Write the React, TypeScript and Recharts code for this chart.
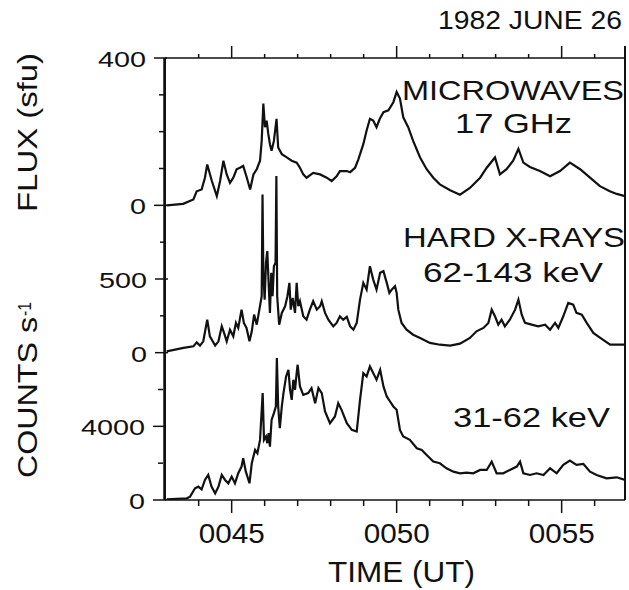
import { LineChart, Line, XAxis, YAxis } from 'recharts'

const FONT = "'Liberation Sans', Arial, Helvetica, sans-serif"
const INK = '#111'
const W = 629
const H = 590
const MARGIN = { top: 57, right: 4, bottom: 89, left: 162 }

// time axis, minutes after 00:00 UT
const timeDomain = [42.98, 56.92]
const timeTicks = [44, 45, 46, 47, 48, 49, 50, 51, 52, 53, 54, 55, 56]
const timeLabels = [45, 50, 55]

// 17 GHz microwave flux (sfu)
const mwTime = [
  43.03, 43.53, 43.84, 43.94, 44.09, 44.19, 44.26, 44.4, 44.55, 44.65,
  44.75, 44.85, 44.95, 45.05, 45.15, 45.25, 45.35, 45.46, 45.56, 45.66,
  45.76, 45.86, 45.91, 45.96, 46.01, 46.06, 46.11, 46.16, 46.21, 46.28,
  46.36, 46.41, 46.52, 46.67, 46.82, 46.97, 47.07, 47.17, 47.27, 47.47,
  47.68, 47.88, 48.03, 48.18, 48.28, 48.49, 48.59, 48.74, 48.84, 48.99,
  49.09, 49.19, 49.29, 49.39, 49.49, 49.6, 49.75, 49.9, 50.0, 50.1,
  50.2, 50.35, 50.5, 50.71, 50.91, 51.11, 51.31, 51.62, 51.92, 52.22,
  52.53, 52.73, 52.98, 53.13, 53.33, 53.53, 53.69, 53.84, 54.04, 54.34,
  54.65, 54.95, 55.25, 55.56, 55.86, 56.16, 56.46, 56.67, 56.92,
]
const mwFlux = [
  0, 4, 16, 38, 43, 75, 111, 66, 25, 66,
  121, 84, 61, 75, 98, 102, 107, 75, 43, 84,
  98, 121, 175, 276, 212, 230, 194, 166, 148, 175,
  235, 157, 139, 130, 121, 116, 102, 84, 75, 88,
  84, 75, 66, 79, 93, 93, 90, 102, 125, 166,
  203, 235, 230, 212, 235, 253, 258, 280, 308, 290,
  239, 212, 175, 130, 98, 75, 57, 41, 29, 47,
  75, 102, 130, 84, 98, 121, 153, 116, 104, 93,
  79, 93, 116, 98, 75, 52, 38, 31, 25,
]

// hard X-rays 62-143 keV (counts/s)
const hxTime = [
  43.03, 43.54, 43.84, 43.94, 44.04, 44.14, 44.26, 44.34, 44.5, 44.6,
  44.7, 44.77, 44.85, 44.95, 45.05, 45.13, 45.2, 45.3, 45.37, 45.45,
  45.54, 45.61, 45.68, 45.76, 45.84, 45.91, 45.935, 45.96, 46.0, 46.04,
  46.08, 46.12, 46.16, 46.2, 46.24, 46.28, 46.33, 46.355, 46.38, 46.44,
  46.52, 46.62, 46.69, 46.75, 46.79, 46.85, 46.92, 46.97, 47.02, 47.07,
  47.17, 47.27, 47.37, 47.47, 47.58, 47.68, 47.73, 47.83, 47.93, 48.08,
  48.18, 48.28, 48.38, 48.49, 48.59, 48.69, 48.79, 48.89, 48.99, 49.09,
  49.19, 49.29, 49.39, 49.5, 49.6, 49.7, 49.78, 49.85, 49.95, 50.0,
  50.05, 50.15, 50.3, 50.5, 50.71, 51.01, 51.31, 51.62, 51.92, 52.22,
  52.42, 52.63, 52.78, 52.88, 52.98, 53.08, 53.18, 53.28, 53.43, 53.59,
  53.69, 53.79, 53.89, 54.09, 54.29, 54.5, 54.65, 54.8, 54.9, 55.05,
  55.2, 55.35, 55.45, 55.61, 55.76, 55.96, 56.16, 56.47, 56.92,
]
const hxCounts = [
  9, 32, 43, 70, 48, 77, 224, 111, 48, 77,
  179, 134, 77, 156, 111, 202, 168, 292, 202, 168,
  77, 145, 258, 190, 292, 383, 1074, 542, 360, 610,
  689, 474, 270, 542, 383, 587, 610, 1199, 383, 190,
  270, 315, 383, 474, 292, 372, 270, 474, 315, 349,
  247, 224, 292, 349, 292, 315, 349, 270, 224, 179,
  202, 247, 224, 243, 179, 156, 202, 360, 474, 428,
  587, 496, 428, 542, 553, 474, 406, 428, 451, 406,
  292, 202, 156, 122, 100, 66, 54, 48, 61, 100,
  145, 168, 202, 292, 247, 190, 224, 179, 224, 292,
  360, 258, 202, 190, 179, 190, 156, 202, 168, 247,
  338, 326, 270, 258, 202, 134, 102, 54, 54,
]

// X-rays 31-62 keV (counts/s)
const sxTime = [
  43.03, 43.64, 43.74, 43.89, 43.99, 44.09, 44.19, 44.29, 44.39, 44.5,
  44.6, 44.7, 44.8, 44.9, 45.0, 45.1, 45.2, 45.3, 45.35, 45.43,
  45.54, 45.61, 45.71, 45.78, 45.86, 45.94, 45.98, 46.04, 46.08, 46.12,
  46.16, 46.21, 46.28, 46.34, 46.37, 46.41, 46.46, 46.52, 46.57, 46.65,
  46.72, 46.77, 46.82, 46.87, 46.92, 46.97, 47.0, 47.07, 47.17, 47.32,
  47.42, 47.53, 47.63, 47.73, 47.83, 47.98, 48.13, 48.23, 48.33, 48.49,
  48.64, 48.79, 48.89, 48.99, 49.09, 49.19, 49.29, 49.39, 49.5, 49.6,
  49.7, 49.8, 49.9, 50.0, 50.1, 50.2, 50.4, 50.61, 50.76, 50.91,
  51.11, 51.31, 51.51, 51.72, 51.92, 52.12, 52.32, 52.53, 52.73, 52.88,
  53.03, 53.23, 53.43, 53.64, 53.74, 53.84, 54.04, 54.24, 54.45, 54.65,
  54.85, 55.05, 55.25, 55.45, 55.66, 55.86, 56.06, 56.36, 56.67, 56.92,
]
const sxCounts = [
  36, 91, 181, 635, 725, 580, 1088, 1360, 725, 363,
  725, 1360, 1088, 907, 1269, 907, 1451, 1813, 2267, 1541,
  907, 1995, 2720, 2539, 3264, 5803, 3264, 3445, 3083, 3627,
  2901, 4352, 4714, 5078, 7707, 5078, 3899, 5078, 5803, 6709,
  7072, 5984, 5440, 6528, 5984, 6890, 7344, 6165, 5712, 5803,
  6075, 5259, 6075, 5803, 4806, 4171, 4533, 5259, 4896, 4171,
  3808, 3717, 5440, 6890, 6709, 7253, 6890, 6528, 7072, 6165,
  5621, 5349, 5078, 4896, 3808, 3445, 3264, 2810, 2720, 2448,
  2086, 1995, 1722, 1541, 1451, 1487, 1451, 1632, 1632, 2086,
  1451, 1451, 1632, 1813, 2086, 1451, 1360, 1451, 1360, 1722,
  1451, 1904, 2140, 1904, 1958, 1541, 1360, 1178, 1233, 1088,
]

const mwData = mwTime.map((t, i) => ({ t, v: mwFlux[i] }))
const hxData = hxTime.map((t, i) => ({ t, v: hxCounts[i] }))
const sxData = sxTime.map((t, i) => ({ t, v: sxCounts[i] }))

function LeftTick(props: any) {
  const { x, y, payload, labels } = props
  const major = labels.includes(payload.value)
  const txt = String(payload.value)
  return (
    <g>
      <line x1={x - (major ? 10 : 5)} x2={major ? x + 3 : x} y1={y} y2={y} stroke={INK} strokeWidth={1.5} />
      {major && (
        <text x={x - 18} y={y + 9} textAnchor="end" fontSize={22} fontFamily={FONT} fill={INK}
          textLength={txt.length * 16} lengthAdjust="spacingAndGlyphs">{txt}</text>
      )}
    </g>
  )
}

function BottomTick(props: any) {
  const { x, y, payload } = props
  const major = timeLabels.includes(payload.value)
  return (
    <g>
      <line x1={x} x2={x} y1={y} y2={y + (major ? 13 : 6)} stroke={INK} strokeWidth={1.5} />
      {major && (
        <text x={x} y={y + 43} textAnchor="middle" fontSize={28} fontFamily={FONT} fill={INK}
          textLength={66} lengthAdjust="spacingAndGlyphs">{'00' + payload.value}</text>
      )}
    </g>
  )
}

function TopTick(props: any) {
  const { x, y, payload } = props
  const major = timeLabels.includes(payload.value)
  return <line x1={x} x2={x} y1={y} y2={y - (major ? 12 : 4)} stroke={INK} strokeWidth={1.5} />
}

// sides of the box: plot area = margins plus the 1px axis bands
function Frame() {
  const left = MARGIN.left + 3
  const right = W - MARGIN.right
  const top = MARGIN.top + 1
  const bottom = H - MARGIN.bottom - 1
  return (
    <path d={`M${left},${top}V${bottom}M${right},${top - 12}V${bottom}`}
      stroke={INK} strokeWidth={2} fill="none" />
  )
}

const axisLine = { stroke: INK, strokeWidth: 1.5 }

function Caption({ x, y, len, size = 28, children }: any) {
  return (
    <text x={x} y={y} fontSize={size} fontFamily={FONT} fill={INK}
      textLength={len} lengthAdjust="spacingAndGlyphs">{children}</text>
  )
}

export default function App() {
  return (
    <div style={{ position: 'absolute', left: 0, top: 0, background: '#fff' }}>
      <LineChart width={W} height={H} margin={MARGIN}>
        <XAxis dataKey="t" type="number" domain={timeDomain} allowDataOverflow ticks={timeTicks}
          height={1} tickSize={0} tickMargin={0} tickLine={false} axisLine={axisLine}
          tick={(p: any) => <BottomTick {...p} />} />
        <XAxis xAxisId="top" orientation="top" dataKey="t" type="number" domain={timeDomain} allowDataOverflow
          ticks={timeTicks} height={1} tickSize={0} tickMargin={0} tickLine={false} axisLine={axisLine}
          tick={(p: any) => <TopTick {...p} />} />
        <YAxis yAxisId="mw" type="number" domain={[-800, 400]} allowDataOverflow ticks={[0, 100, 200, 300, 400]}
          width={1} tickSize={0} tickMargin={0} tickLine={false} axisLine={axisLine}
          tick={(p: any) => <LeftTick {...p} labels={[0, 400]} />} />
        <YAxis yAxisId="hx" type="number" domain={[-1000, 2000]} allowDataOverflow ticks={[0, 250, 500, 750]}
          width={1} tickSize={0} tickMargin={0} tickLine={false} axisLine={false}
          tick={(p: any) => <LeftTick {...p} labels={[0, 500]} />} />
        <YAxis yAxisId="sx" type="number" domain={[0, 24000]} allowDataOverflow ticks={[0, 2000, 4000, 6000]}
          width={1} tickSize={0} tickMargin={0} tickLine={false} axisLine={false}
          tick={(p: any) => <LeftTick {...p} labels={[0, 4000]} />} />

        <Line yAxisId="mw" data={mwData} dataKey="v" type="linear" stroke={INK} strokeWidth={2.2}
          dot={false} isAnimationActive={false} />
        <Line yAxisId="hx" data={hxData} dataKey="v" type="linear" stroke={INK} strokeWidth={2.2}
          dot={false} isAnimationActive={false} />
        <Line yAxisId="sx" data={sxData} dataKey="v" type="linear" stroke={INK} strokeWidth={2.2}
          dot={false} isAnimationActive={false} />

        <Frame />

        <Caption x={438} y={29} len={184} size={25}>1982 JUNE 26</Caption>
        <Caption x={402} y={100} len={222}>MICROWAVES</Caption>
        <Caption x={455} y={133} len={117}>17 GHz</Caption>
        <Caption x={403} y={247} len={222}>HARD X-RAYS</Caption>
        <Caption x={423} y={282} len={180}>62-143 keV</Caption>
        <Caption x={453} y={427} len={157}>31-62 keV</Caption>
        <Caption x={328} y={582} len={147} size={30}>TIME (UT)</Caption>

        <text transform="translate(37,212) rotate(-90)" fontSize={28} fontFamily={FONT} fill={INK}
          textLength={159} lengthAdjust="spacingAndGlyphs">FLUX (sfu)</text>
        <text transform="translate(37,478) rotate(-90)" fontSize={28} fontFamily={FONT} fill={INK}
          textLength={161} lengthAdjust="spacingAndGlyphs">COUNTS s</text>
        <text transform="translate(31,316) rotate(-90)" fontSize={18} fontFamily={FONT} fill={INK}
          textLength={14} lengthAdjust="spacingAndGlyphs">-1</text>
      </LineChart>
    </div>
  )
}
